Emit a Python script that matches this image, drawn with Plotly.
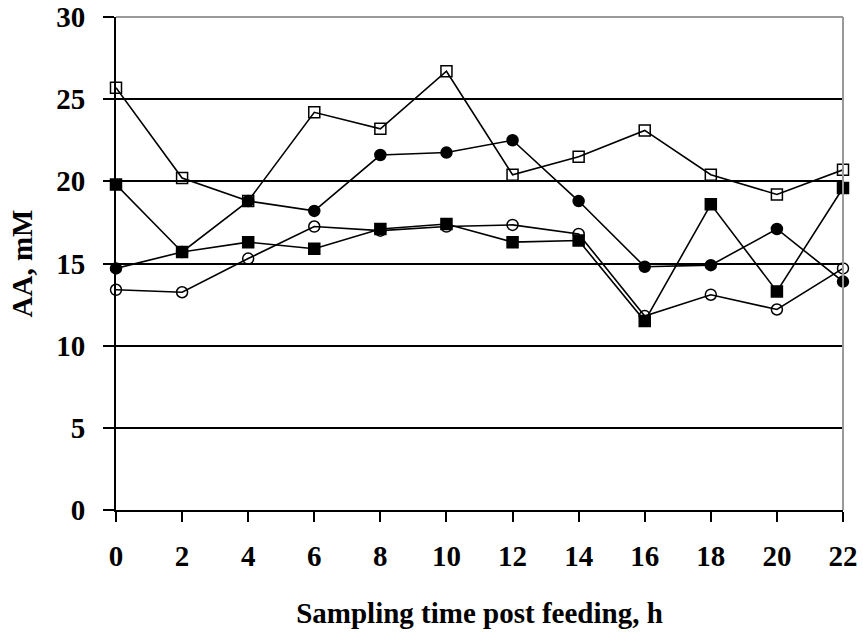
import plotly.graph_objects as go

hours = [0, 2, 4, 6, 8, 10, 12, 14, 16, 18, 20, 22]
open_squares = [25.7, 20.2, 18.8, 24.2, 23.2, 26.7, 20.4, 21.5, 23.1, 20.4, 19.2, 20.7]
filled_circles = [14.7, 15.7, 18.8, 18.2, 21.6, 21.75, 22.5, 18.8, 14.8, 14.9, 17.1, 13.9]
filled_squares = [19.8, 15.7, 16.3, 15.9, 17.1, 17.4, 16.3, 16.4, 11.5, 18.6, 13.3, 19.6]
open_circles = [13.4, 13.25, 15.3, 17.25, 17.0, 17.25, 17.35, 16.8, 11.8, 13.1, 12.2, 14.7]

y_ticks = [0, 5, 10, 15, 20, 25, 30]
x_ticks = hours

FONT = "Liberation Serif"
FS = 29

fig = go.Figure()

def add(vals, symbol, size):
    fig.add_trace(go.Scatter(
        x=hours, y=vals, mode="lines+markers",
        line=dict(color="black", width=1.6),
        marker=dict(symbol=symbol, size=size, color="black",
                    line=dict(color="black", width=1.5)),
        cliponaxis=False, showlegend=False,
    ))

add(open_circles, "circle-open", 11)
add(open_squares, "square-open", 11)
add(filled_circles, "circle", 11)
add(filled_squares, "square", 11)

fig.update_layout(
    width=863, height=636,
    margin=dict(l=116, r=20, t=17, b=126, autoexpand=False),
    paper_bgcolor="white", plot_bgcolor="white",
    font=dict(family=FONT, size=FS, color="black"),
    xaxis=dict(
        range=[0, 22], tickvals=x_ticks, ticktext=[str(v) for v in x_ticks],
        showgrid=False, zeroline=False, automargin=False,
        showline=True, linecolor="black", linewidth=2,
        ticks="outside", ticklen=10, tickwidth=2, tickcolor="black",
        tickfont=dict(family=FONT, size=FS, color="black", weight="bold"),
        ticklabelstandoff=9,
        title=dict(text="<b>Sampling time post feeding, h</b>",
                   font=dict(family=FONT, size=FS, color="black"), standoff=32),
    ),
    yaxis=dict(
        range=[0, 30], tickvals=y_ticks, ticktext=[str(v) for v in y_ticks],
        showgrid=True, gridcolor="black", gridwidth=2, zeroline=False, automargin=False,
        showline=True, linecolor="black", linewidth=2,
        ticks="outside", ticklen=11, tickwidth=2, tickcolor="black",
        tickfont=dict(family=FONT, size=FS, color="black", weight="bold"),
        ticklabelstandoff=12,
        title=dict(text="<b>AA, mM</b>",
                   font=dict(family=FONT, size=FS, color="black"), standoff=15),
    ),
    shapes=[
        dict(type="line", xref="paper", yref="paper", x0=0, x1=1, y0=1, y1=1,
             line=dict(color="#999999", width=2), layer="above"),
        dict(type="line", xref="paper", yref="paper", x0=1, x1=1, y0=0, y1=1,
             line=dict(color="#999999", width=2), layer="above"),
    ],
)

# remove the browser's default 8px page margin so the figure sits at (0, 0)
fig.write_html("out.html",
               config={"displayModeBar": False},
               post_script="document.body.style.margin='0';document.body.style.overflow='hidden';")
